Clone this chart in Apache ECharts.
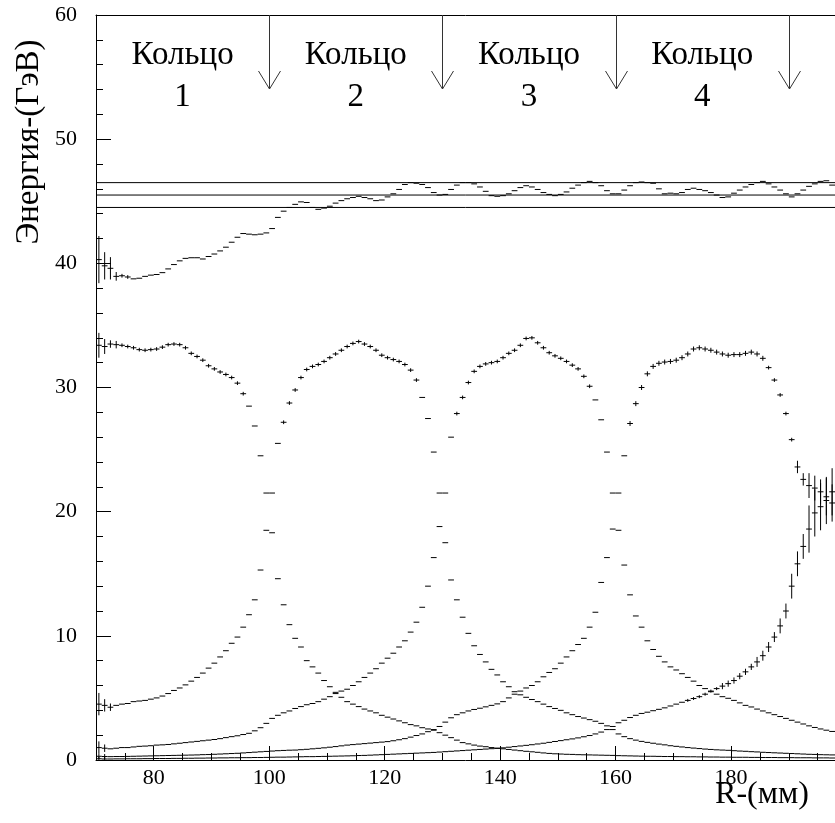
<!DOCTYPE html>
<html><head><meta charset="utf-8">
<script src="https://cdn.jsdelivr.net/npm/echarts@6/dist/echarts.min.js"></script>
<style>html,body{margin:0;padding:0;background:#fff}#c{width:835px;height:823px}</style>
</head><body><div id="c"></div><script>
// ---- data ----
const binStart = 70;      // mm, first bin edge
const binWidth = 1;       // mm
const xMin = 70, xMax = 198, yMin = 0, yMax = 60;

const totalE = [
 40.3,39.8,39.6,38.95,39.0,38.9,38.75,38.8,38.95,39.05,
 39.1,39.25,39.55,39.9,40.2,40.4,40.45,40.45,40.35,40.55,
 40.75,41.0,41.3,41.7,42.1,42.4,42.35,42.3,42.35,42.45,
 42.8,43.7,44.2,44.5,44.75,44.95,44.9,44.5,44.35,44.45,
 44.6,44.85,45.05,45.2,45.3,45.4,45.3,45.2,45.05,45.1,
 45.35,45.6,45.95,46.35,46.5,46.45,46.35,46.1,45.7,45.5,
 45.55,45.95,46.3,46.5,46.5,46.4,46.15,45.8,45.45,45.4,
 45.45,45.6,45.85,46.1,46.25,46.15,45.95,45.7,45.55,45.45,
 45.55,45.75,46.05,46.3,46.5,46.6,46.5,46.25,45.85,45.6,
 45.6,45.9,46.25,46.5,46.55,46.5,46.45,46.0,45.6,45.65,
 45.6,45.7,45.95,46.05,45.95,45.85,45.7,45.5,45.3,45.35,
 45.65,45.9,46.15,46.35,46.5,46.6,46.4,46.15,45.9,45.6,
 45.35,45.6,45.9,46.2,46.4,46.6,46.65,46.3,46.1,46.2
];
const ring1 = [
 33.4,33.3,33.5,33.45,33.4,33.3,33.2,33.05,33.0,33.05,
 33.1,33.25,33.45,33.5,33.45,33.2,32.75,32.5,32.2,31.75,
 31.5,31.25,31.05,30.8,30.35,29.5,28.5,26.9,24.5,21.5,
 18.3,14.6,12.5,10.9,9.8,9.1,8.0,7.5,7.0,6.4,
 5.9,5.45,5.05,4.7,4.5,4.3,4.1,3.95,3.8,3.6,
 3.45,3.3,3.15,3.0,2.85,2.75,2.6,2.5,2.4,2.2,
 2.0,1.8,1.6,1.4,1.3,1.2,1.12,1.07,1.0,0.95,
 0.9,0.85,0.8,0.75,0.7,0.66,0.62,0.57,0.53,0.5,
 0.48,0.46,0.45,0.43,0.42,0.41,0.4,0.39,0.38,0.37,
 0.35,0.34,0.33,0.32,0.31,0.3,0.3,0.29,0.28,0.28,
 0.27,0.27,0.26,0.26,0.25,0.25,0.24,0.24,0.23,0.23,
 0.22,0.22,0.22,0.21,0.21,0.2,0.2,0.2,0.19,0.19,
 0.19,0.18,0.18,0.18,0.17,0.17,0.17,0.16,0.16,0.16
];
const ring2 = [
 4.5,4.4,4.25,4.4,4.5,4.55,4.7,4.75,4.8,4.9,
 5.0,5.15,5.35,5.6,5.8,6.05,6.35,6.65,7.0,7.4,
 7.8,8.3,8.8,9.4,9.9,10.7,11.7,12.9,15.3,18.5,
 21.5,25.5,27.2,28.75,29.8,30.8,31.45,31.7,31.85,32.1,
 32.4,32.7,33.0,33.3,33.55,33.7,33.5,33.3,33.0,32.6,
 32.4,32.25,32.1,31.85,31.4,30.6,29.2,27.5,24.8,21.5,
 17.5,14.5,12.9,11.5,10.2,9.2,8.5,7.9,7.3,6.85,
 6.3,5.9,5.5,5.25,5.05,4.87,4.7,4.5,4.3,4.15,
 4.0,3.8,3.65,3.5,3.38,3.25,3.12,2.95,2.75,2.45,
 2.1,1.88,1.72,1.6,1.5,1.42,1.35,1.28,1.22,1.15,
 1.1,1.05,1.0,0.96,0.92,0.88,0.85,0.82,0.8,0.78,
 0.75,0.72,0.7,0.67,0.65,0.62,0.6,0.58,0.56,0.54,
 0.52,0.5,0.48,0.46,0.45,0.43,0.42,0.41,0.4,0.39
];
const ring3 = [
 1.0,0.95,0.9,0.95,1.0,1.0,1.05,1.1,1.12,1.15,
 1.2,1.22,1.25,1.3,1.35,1.4,1.45,1.5,1.55,1.6,
 1.65,1.72,1.8,1.88,1.95,2.05,2.15,2.35,2.6,2.95,
 3.35,3.6,3.8,3.95,4.15,4.3,4.45,4.55,4.7,4.9,
 5.1,5.35,5.55,5.7,6.0,6.3,6.65,7.0,7.35,7.8,
 8.2,8.6,9.1,9.6,10.3,11.1,12.3,14.0,16.3,18.8,
 21.5,26.0,27.9,29.2,30.4,31.3,31.7,31.9,32.0,32.1,
 32.4,32.75,33.0,33.4,33.95,34.0,33.6,33.2,32.8,32.55,
 32.35,32.1,31.8,31.5,30.9,30.1,29.0,27.4,24.8,21.5,
 18.5,15.7,13.3,11.6,10.7,9.6,8.9,8.35,7.9,7.5,
 7.25,6.95,6.65,6.35,6.0,5.75,5.5,5.3,5.1,4.97,
 4.8,4.6,4.4,4.27,4.1,3.95,3.8,3.65,3.5,3.35,
 3.2,3.05,2.9,2.75,2.62,2.5,2.4,2.3,2.25,2.2
];
const ring4 = [
 0.3,0.28,0.27,0.28,0.28,0.29,0.3,0.31,0.32,0.33,
 0.34,0.35,0.36,0.37,0.38,0.39,0.4,0.41,0.43,0.44,
 0.46,0.48,0.5,0.52,0.54,0.57,0.6,0.63,0.66,0.69,
 0.72,0.75,0.77,0.79,0.8,0.83,0.86,0.9,0.94,0.98,
 1.03,1.08,1.14,1.2,1.24,1.28,1.32,1.36,1.4,1.44,
 1.48,1.55,1.63,1.72,1.84,1.97,2.1,2.28,2.45,2.7,
 3.05,3.4,3.65,3.8,3.95,4.07,4.17,4.28,4.4,4.52,
 4.7,5.0,5.3,5.55,5.8,6.0,6.3,6.7,7.05,7.35,
 7.8,8.3,8.8,9.3,9.8,10.7,11.9,14.3,16.3,18.6,
 21.5,24.5,27.1,28.7,30.0,31.1,31.7,31.95,32.05,32.1,
 32.2,32.4,32.7,33.1,33.2,33.1,33.0,32.85,32.7,32.6,
 32.65,32.65,32.75,32.85,32.7,32.35,31.6,30.6,29.4,27.9,
 25.8,23.6,22.6,22.1,21.9,21.6,21.2,20.7,20.3,20.0
];
const ring5 = [
 0.1,0.08,0.08,0.09,0.09,0.1,0.1,0.1,0.11,0.11,
 0.12,0.12,0.12,0.13,0.13,0.14,0.14,0.15,0.15,0.16,
 0.16,0.17,0.17,0.18,0.18,0.19,0.19,0.2,0.2,0.21,
 0.22,0.23,0.23,0.24,0.25,0.26,0.27,0.27,0.28,0.29,
 0.3,0.31,0.32,0.33,0.34,0.36,0.37,0.39,0.41,0.43,
 0.45,0.47,0.49,0.51,0.53,0.55,0.57,0.59,0.61,0.64,
 0.67,0.7,0.73,0.76,0.79,0.82,0.85,0.88,0.91,0.94,
 0.98,1.03,1.08,1.13,1.18,1.23,1.29,1.35,1.42,1.49,
 1.56,1.63,1.7,1.78,1.87,1.97,2.1,2.25,2.45,2.7,
 3.0,3.2,3.42,3.6,3.75,3.85,3.97,4.08,4.2,4.35,
 4.5,4.65,4.8,4.95,5.1,5.3,5.55,5.75,5.95,6.15,
 6.4,6.75,7.1,7.5,7.9,8.4,9.1,9.9,10.8,12.0,
 14.0,15.8,17.2,18.6,19.9,20.4,20.9,21.6,22.0,22.3
];
// error bars: [from mm, to mm, half-length]
const errTotal = [[70,71,1.9],[71,72,1.1],[72,73,0.9],[73,74,0.35],[74,76,0.15],[76,200,0.06]];
const errRing1 = [[70,71,1.0],[71,72,0.6],[72,74,0.3],[74,96,0.15],[96,200,0.04]];
const errRing2 = [[70,71,0.9],[71,72,0.5],[72,73,0.3],[73,100,0.06],[100,102,0.04],[102,126,0.15],[126,200,0.04]];
const errRing3 = [[70,71,0.5],[71,72,0.3],[72,132,0.04],[132,156,0.15],[156,200,0.05]];
const errRing4 = [[70,72,0.2],[72,162,0.04],[162,186,0.2],[186,191,0.15],[191,193,0.5],[193,196,1.0],[196,200,1.5]];
const errRing5 = [[70,72,0.15],[72,172,0.04],[172,178,0.12],[178,184,0.25],[184,188,0.4],[188,190,0.6],[190,193,1.0],[193,200,1.9]];

const ringBounds = [70, 100, 130, 160, 190];
const ringWord = 'Кольцо';
const ringNums = ['1', '2', '3', '4'];
const refLines = [44.5, 45.5, 46.5];
const xLabelTicks = [80, 100, 120, 140, 160, 180];
const xMinorTicks = [75,85,90,95,105,110,115,125,130,135,145,150,155,165,170,175,185,190,195];
const yTitle = 'Энергия-(ГэВ)';
const xTitle = 'R-(мм)';

// ---- build ----
const FONT = '"Liberation Serif", "DejaVu Serif", serif';
function errAt(ranges, x) {
  for (const r of ranges) if (x >= r[0] && x < r[1]) return r[2];
  return 0;
}
function hist(vals, errs) {
  return vals.map((v, i) => {
    const xc = binStart + (i + 0.5) * binWidth;
    return [xc, v, errAt(errs, xc)];
  });
}
function renderHist(params, api) {
  const x = api.value(0), y = api.value(1), e = api.value(2);
  const a = api.coord([x - binWidth / 2, y]);
  const b = api.coord([x + binWidth / 2, y]);
  const t = api.coord([x, y + e]);
  const d = api.coord([x, y - e]);
  const st = { stroke: '#000', lineWidth: 1 };
  const ch = [{ type: 'line', shape: { x1: a[0], y1: a[1], x2: b[0], y2: b[1] }, style: st }];
  if (d[1] - t[1] > 1.5) ch.push({ type: 'line', shape: { x1: t[0], y1: t[1], x2: d[0], y2: d[1] }, style: st });
  return { type: 'group', children: ch };
}
const histSets = [[totalE, errTotal], [ring1, errRing1], [ring2, errRing2], [ring3, errRing3], [ring4, errRing4], [ring5, errRing5]];
const series = histSets.map(([v, e]) => ({
  type: 'custom', renderItem: renderHist, data: hist(v, e), clip: true, silent: true, animation: false
}));

// reference lines
series.push({
  type: 'custom', silent: true, animation: false, clip: true,
  data: refLines.map(v => [xMin, v]),
  renderItem: (params, api) => {
    const cs = params.coordSys;
    const p = api.coord([xMin, api.value(1)]);
    return { type: 'line', shape: { x1: cs.x, y1: p[1], x2: cs.x + cs.width, y2: p[1] }, style: { stroke: '#000', lineWidth: 1 } };
  }
});
// arrows at ring boundaries
series.push({
  type: 'custom', silent: true, animation: false,
  data: ringBounds.slice(1).map(b => [b, yMax]),
  renderItem: (params, api) => {
    const p = api.coord([api.value(0), api.value(1)]);
    const x = Math.round(p[0]) + 0.5, y0 = p[1], tip = y0 + 74;
    const st = { stroke: '#333', lineWidth: 1 };
    return { type: 'group', children: [
      { type: 'line', shape: { x1: x, y1: y0, x2: x, y2: tip }, style: st },
      { type: 'line', shape: { x1: x - 11, y1: tip - 18, x2: x, y2: tip }, style: st },
      { type: 'line', shape: { x1: x + 11, y1: tip - 18, x2: x, y2: tip }, style: st }
    ]};
  }
});
// ring labels
series.push({
  type: 'custom', silent: true, animation: false,
  data: ringNums.map((n, i) => [(ringBounds[i] + ringBounds[i + 1]) / 2, yMax, i]),
  renderItem: (params, api) => {
    const p = api.coord([api.value(0), api.value(1)]);
    const n = ringNums[api.value(2)];
    const f = '33px ' + FONT;
    return { type: 'group', children: [
      { type: 'text', x: p[0], y: p[1] + 40, style: { text: ringWord, font: f, fill: '#000', align: 'center', verticalAlign: 'middle' } },
      { type: 'text', x: p[0], y: p[1] + 82, style: { text: n, font: f, fill: '#000', align: 'center', verticalAlign: 'middle' } }
    ]};
  }
});

const axisLineSt = { show: true, lineStyle: { color: '#000', width: 1 } };
const option = {
  animation: false,
  backgroundColor: '#fff',
  grid: { left: 96, right: 0, top: 15, bottom: 63, containLabel: false },
  xAxis: [
    { type: 'value', min: xMin, max: xMax, position: 'bottom',
      axisLine: axisLineSt, splitLine: { show: false },
      axisTick: { show: true, inside: true, length: 14, customValues: xLabelTicks, lineStyle: { color: '#000' } },
      axisLabel: { show: true, customValues: xLabelTicks, color: '#000', fontFamily: FONT, fontSize: 22, margin: 7 } },
    { type: 'value', min: xMin, max: xMax, position: 'bottom',
      axisLine: { show: false }, splitLine: { show: false },
      axisTick: { show: true, inside: true, length: 7, customValues: xMinorTicks, lineStyle: { color: '#000' } },
      axisLabel: { show: false } },
    { type: 'value', min: xMin, max: xMax, position: 'top',
      axisLine: axisLineSt, splitLine: { show: false }, axisTick: { show: false }, axisLabel: { show: false } }
  ],
  yAxis: [{ type: 'value', min: yMin, max: yMax, interval: 10, position: 'left',
    axisLine: axisLineSt, splitLine: { show: false },
    axisTick: { show: true, inside: true, length: 15, lineStyle: { color: '#000' } },
    minorTick: { show: true, splitNumber: 5, length: 7, lineStyle: { color: '#000' } },
    axisLabel: { color: '#000', fontFamily: FONT, fontSize: 22, margin: 19 } }],
  graphic: [
    { type: 'text', x: 29, y: 142, rotation: Math.PI / 2,
      style: { text: yTitle, font: '33px ' + FONT, fill: '#000', align: 'center', verticalAlign: 'middle' } },
    { type: 'text', x: 762, y: 795,
      style: { text: xTitle, font: '32px ' + FONT, fill: '#000', align: 'center', verticalAlign: 'middle' } }
  ],
  series: series
};
const chart = echarts.init(document.getElementById('c'), null, { renderer: 'canvas' });
chart.setOption(option);
</script></body></html>
